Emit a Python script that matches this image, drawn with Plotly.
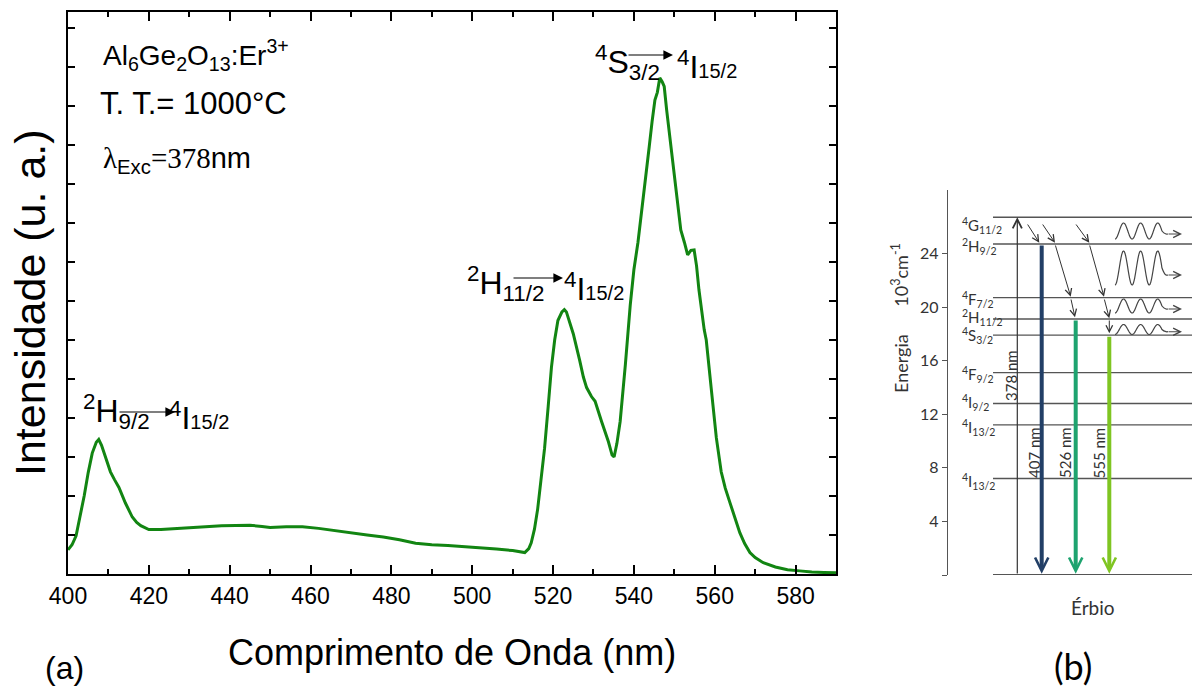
import numpy as np
import plotly.graph_objects as go

W, H = 1192, 690

# ---------------- data: panel (a) emission spectrum ----------------
wavelength = [400.0, 401.0, 402.0, 403.0, 404.0, 405.0, 406.0, 407.0, 407.6, 408.3,
              409.3, 410.5, 411.5, 412.6, 414.2, 415.9, 417.0, 418.0, 420.0, 423.0,
              426.0, 430.0, 434.0, 438.0, 442.0, 445.0, 448.0, 450.0, 454.0, 458.0,
              462.0, 466.0, 470.0, 474.0, 478.0, 482.0, 486.0, 490.0, 494.0, 498.0,
              502.0, 506.0, 510.0, 512.0, 513.0, 514.0, 514.6, 515.4, 516.2, 517.0,
              517.9, 518.8, 519.6, 520.4, 521.2, 522.2, 522.8, 523.3, 524.2, 525.0,
              526.6, 527.5, 528.3, 529.5, 530.4, 531.2, 532.0, 533.7, 534.6, 535.1,
              535.8, 536.6, 537.3, 537.9, 539.1, 540.0, 541.0, 541.7, 542.8, 543.8,
              544.5, 545.2, 545.8, 546.4, 547.0, 547.5, 548.1, 548.7, 550.0, 551.6,
              552.5, 553.3, 554.1, 554.9, 555.5, 556.1, 557.4, 557.9, 559.2, 560.4,
              561.6, 562.6, 563.7, 565.0, 566.2, 567.4, 568.7, 570.0, 572.0, 575.0,
              578.0, 581.0, 584.0, 587.0, 590.0]
intensity = [0.62, 0.75, 0.98, 1.45, 2.00, 2.60, 3.10, 3.38, 3.45, 3.30,
             3.00, 2.62, 2.42, 2.22, 1.82, 1.46, 1.32, 1.24, 1.14, 1.14,
             1.16, 1.18, 1.21, 1.24, 1.25, 1.25, 1.22, 1.19, 1.21, 1.21,
             1.17, 1.11, 1.05, 1.00, 0.95, 0.88, 0.79, 0.75, 0.73, 0.70,
             0.68, 0.64, 0.60, 0.57, 0.55, 0.65, 0.80, 1.15, 1.67, 2.40,
             3.22, 4.30, 5.30, 6.00, 6.50, 6.72, 6.78, 6.72, 6.45, 6.16,
             5.47, 5.05, 4.78, 4.55, 4.43, 4.15, 3.91, 3.39, 3.05, 3.00,
             3.35, 3.91, 4.65, 5.38, 6.90, 7.80, 8.50, 9.08, 10.00, 10.96,
             11.60, 12.15, 12.35, 12.72, 12.62, 12.50, 11.90, 11.38, 10.10, 8.82,
             8.50, 8.18, 8.30, 8.31, 7.90, 7.28, 6.26, 6.00, 4.69, 3.49,
             2.62, 2.20, 1.85, 1.42, 1.06, 0.78, 0.55, 0.42, 0.29, 0.18,
             0.11, 0.08, 0.05, 0.04, 0.03]
x_tickvals = [400, 420, 440, 460, 480, 500, 520, 540, 560, 580]

# ---------------- data: panel (b) energy levels (10^3 cm^-1) ----------------
level_names = ["<sup>4</sup>G<sub>11/2</sub>", "<sup>2</sup>H<sub>9/2</sub>",
               "<sup>4</sup>F<sub>7/2</sub>", "<sup>2</sup>H<sub>11/2</sub>",
               "<sup>4</sup>S<sub>3/2</sub>", "<sup>4</sup>F<sub>9/2</sub>",
               "<sup>4</sup>I<sub>9/2</sub>", "<sup>4</sup>I<sub>13/2</sub>",
               "<sup>4</sup>I<sub>13/2</sub>", "<sup>4</sup>I<sub>15/2</sub>"]
level_energy = [26.7, 24.7, 20.7, 19.1, 17.9, 15.1, 12.8, 11.2, 7.2, 0.0]
energy_ticks = [0, 4, 8, 12, 16, 20, 24]
energy_ticktext = ["", "4", "8", "12", "16", "20", "24"]
excitation_label = "378 nm"
emission_labels = ["407 nm", "526 nm", "555 nm"]
emission_from = [24.7, 19.1, 17.9]

# ---------------- layout helpers (positions/styles) ----------------
def px(x):
    return x / W

def py(y):
    return 1 - y / H

ARIAL = "Liberation Sans, Arial, sans-serif"
CALI = "Lato, Carlito, Calibri, Open Sans, sans-serif"
GREEN = "#128512"

# panel (b) pixel geometry
B_AXIS_PX = 948.0
B_ZERO_PY = 575.0
B_SCALE = 13.4   # px per 10^3 cm^-1
B_TOP_PY = 190.0
b_ymax = (B_ZERO_PY - B_TOP_PY) / B_SCALE

fig = go.Figure()

fig.add_trace(go.Scatter(x=wavelength, y=intensity, mode="lines",
                         line=dict(color=GREEN, width=3),
                         xaxis="x", yaxis="y", hoverinfo="skip", showlegend=False))

annotations = []
shapes = []

def note(x, y, text, font, xanchor="center", yanchor="middle", **kw):
    d = dict(x=x, y=y, xref="paper", yref="paper", xanchor=xanchor, yanchor=yanchor,
             text=text, font=font, showarrow=False)
    d.update(kw)
    return d

# ---- panel (a) texts ----
annotations += [
    note(px(101), py(55), "Al<sub>6</sub>Ge<sub>2</sub>O<sub>13</sub>:Er<sup>3+</sup>",
         dict(family=ARIAL, size=28, color="black"), xanchor="left"),
    note(px(98), py(104), "T. T.= 1000°C", dict(family=ARIAL, size=31, color="black"),
         xanchor="left"),
    note(px(101), py(160),
         ("<span style='font-family:Liberation Serif'>λ</span><sub>Exc</sub>"
          "<span style='font-family:Liberation Serif'>=378</span>nm"),
         dict(family=ARIAL, size=29, color="black"), xanchor="left"),
    note(px(452), py(652), "Comprimento de Onda (nm)", dict(family=ARIAL, size=36, color="black")),
    note(px(30), py(303), "Intensidade (u. a.)", dict(family=ARIAL, size=43, color="black"),
         textangle=-90),
    note(px(64), py(668), "(a)", dict(family=ARIAL, size=32, color="black")),
    note(px(1073), py(666), "(b)", dict(family=CALI, size=36, color="black")),
]

# transition labels: (left text, left px, left center py, right text, right px, right center py, arrow x0, x1, y)
SUBR = "<span style='font-size:20px'>15/2</span>"
trans = [
    ("<sup>2</sup>H<sub>9/2</sub>", 81, 411, "<sup>4</sup>I" + SUBR, 167, 416, 118, 175, 412),
    ("<sup>2</sup>H<sub>11/2</sub>", 465, 283, "<sup>4</sup>I" + SUBR, 562, 287, 512, 563, 278),
    ("<sup>4</sup>S<sub>3/2</sub>", 593, 62, "<sup>4</sup>I" + SUBR, 675, 65, 627, 673, 55),
]
for lt, lx, ly, rt, rx, ry, ax0, ax1, ay in trans:
    annotations.append(note(px(lx), py(ly), lt, dict(family=ARIAL, size=32, color="black"),
                            xanchor="left"))
    annotations.append(note(px(rx), py(ry), rt, dict(family=ARIAL, size=32, color="black"),
                            xanchor="left"))
    annotations.append(dict(x=px(ax1), y=py(ay), xref="paper", yref="paper", text="",
                            showarrow=True, ax=-(ax1 - ax0), ay=0, axref="pixel", ayref="pixel",
                            arrowhead=2, arrowwidth=1.2, arrowsize=1.6, arrowcolor="black",
                            standoff=0, startstandoff=0))

# ---- panel (b) diagram ----
LINE_X0, LINE_X1 = 45, 250
for e in level_energy:
    shapes.append(dict(type="line", xref="x2", yref="y2", x0=LINE_X0, x1=LINE_X1, y0=e, y1=e,
                       line=dict(color="#555555", width=2 if e == 0 else 1.4)))

label_center_py = [225, 246, 299, 317, 335, 374, 402, 427, 481, 581]
for name, cpy in zip(level_names, label_center_py):
    annotations.append(dict(x=12, y=(B_ZERO_PY - cpy) / B_SCALE, xref="x2", yref="y2",
                            xanchor="left", yanchor="middle", text=name, showarrow=False,
                            font=dict(family=CALI, size=15, color="#333333")))

# excitation arrow
EXC_X = 69.3
annotations.append(dict(x=EXC_X, y=level_energy[0], ax=EXC_X, ay=0, xref="x2", yref="y2",
                        axref="x2", ayref="y2", text="", showarrow=True, arrowhead=5,
                        arrowwidth=1.2, arrowsize=1.5, arrowcolor="#333333", standoff=0))
annotations.append(dict(x=63, y=(B_ZERO_PY - 376) / B_SCALE, xref="x2", yref="y2",
                        xanchor="center", yanchor="middle",
                        text=excitation_label, textangle=-90, showarrow=False,
                        font=dict(family=CALI, size=15, color="#333333")))

# emission arrows
EM_X = [93.7, 127.7, 161.3]
EM_COL = ["#223f66", "#1ea36f", "#7fc522"]
EM_LBL_X = [86, 117, 150.5]
for lbl, e0, xx, col, lx in zip(emission_labels, emission_from, EM_X, EM_COL, EM_LBL_X):
    annotations.append(dict(x=xx, y=0.1, ax=xx, ay=e0, xref="x2", yref="y2", axref="x2",
                            ayref="y2", text="", showarrow=True, arrowhead=5, arrowwidth=4,
                            arrowsize=0.65, arrowcolor=col, standoff=0))
    annotations.append(dict(x=lx, y=(B_ZERO_PY - 453) / B_SCALE, xref="x2", yref="y2",
                            xanchor="center", yanchor="middle",
                            text=lbl, textangle=-90, showarrow=False,
                            font=dict(family=CALI, size=15, color="#333333")))

# non-radiative relaxation arrows (px geometry)
nr_segments = [
    (1026.7, 223, 1039.3, 242.7),
    (1041.7, 223, 1055.0, 242.7), (1055.0, 244, 1070.7, 296.7), (1070.7, 298, 1075.0, 317.3),
    (1075.0, 223, 1089.3, 242.7), (1089.3, 244, 1104.0, 296.7), (1104.0, 298, 1109.3, 318.3),
    (1109.3, 319, 1109.3, 333.3),
]
for x0, y0, x1, y1 in nr_segments:
    annotations.append(dict(x=x1 - B_AXIS_PX, y=(B_ZERO_PY - y1) / B_SCALE,
                            ax=x0 - B_AXIS_PX, ay=(B_ZERO_PY - y0) / B_SCALE,
                            xref="x2", yref="y2", axref="x2", ayref="y2", text="",
                            showarrow=True, arrowhead=5, arrowwidth=1, arrowsize=1.3,
                            arrowcolor="#333333", standoff=0))

# wavy (phonon) lines: center py, amplitude px, tail py
waves = [(231, 8, 234), (268, 17, 275), (306, 7, 309), (329.5, 5, 331.7)]
for cpy, amp, tpy in waves:
    t = np.linspace(0, 1, 120)
    wx = 1115 + 47 * t
    wy = cpy + amp * np.cos(2 * np.pi * 2.75 * t)
    wx = np.append(wx, [1166, 1168])
    wy = np.append(wy, [tpy, tpy])
    fig.add_trace(go.Scatter(x=wx - B_AXIS_PX, y=(B_ZERO_PY - wy) / B_SCALE, mode="lines",
                             line=dict(color="#444444", width=1.2, shape="spline"),
                             xaxis="x2", yaxis="y2", hoverinfo="skip", showlegend=False))
    annotations.append(dict(x=1182 - B_AXIS_PX, y=(B_ZERO_PY - tpy) / B_SCALE,
                            ax=1167 - B_AXIS_PX, ay=(B_ZERO_PY - tpy) / B_SCALE,
                            xref="x2", yref="y2", axref="x2", ayref="y2", text="",
                            showarrow=True, arrowhead=5, arrowwidth=1.1, arrowsize=1.3,
                            arrowcolor="#444444", standoff=0))

annotations.append(note(px(900), py(318), "Energia      10<sup>3</sup>cm<sup>-1</sup>",
                        dict(family=CALI, size=18, color="#333333"), textangle=-90))
annotations.append(note(px(1093), py(607), "Érbio", dict(family=CALI, size=19, color="#333333")))

fig.update_layout(
    width=W, height=H,
    margin=dict(l=0, r=0, t=0, b=0, autoexpand=False),
    paper_bgcolor="white", plot_bgcolor="white",
    showlegend=False,
    xaxis=dict(domain=[px(68), px(836)], range=[400, 590], tickvals=x_tickvals,
               ticks="inside", ticklen=9, tickwidth=1.5, tickcolor="black",
               minor=dict(dtick=10, tick0=400, ticks="inside", ticklen=5, tickwidth=1.5,
                          tickcolor="black"),
               showline=True, linecolor="black", linewidth=2, mirror="ticks",
               showgrid=False, zeroline=False, automargin=False,
               tickfont=dict(family=ARIAL, size=23, color="black"), anchor="y"),
    yaxis=dict(domain=[py(574), py(12)], range=[0, 14.41], dtick=1, tick0=0,
               ticks="inside", ticklen=7, tickwidth=1.5, tickcolor="black",
               showticklabels=False, showline=True, linecolor="black", linewidth=2,
               mirror="ticks", showgrid=False, zeroline=False, anchor="x", automargin=False),
    xaxis2=dict(domain=[px(B_AXIS_PX), 1.0], range=[0, W - B_AXIS_PX], visible=False,
                anchor="y2", automargin=False),
    yaxis2=dict(domain=[py(B_ZERO_PY), py(B_TOP_PY)], range=[0, b_ymax], anchor="x2",
                tickvals=energy_ticks, ticktext=energy_ticktext, ticks="outside",
                ticklen=5, tickwidth=1, tickcolor="#555555", showline=True,
                linecolor="#555555", linewidth=1.4, showgrid=False, zeroline=False,
                automargin=False,
                tickfont=dict(family=CALI, size=16, color="#333333")),
    annotations=annotations,
    shapes=shapes,
)

fig.write_html("out.html")
